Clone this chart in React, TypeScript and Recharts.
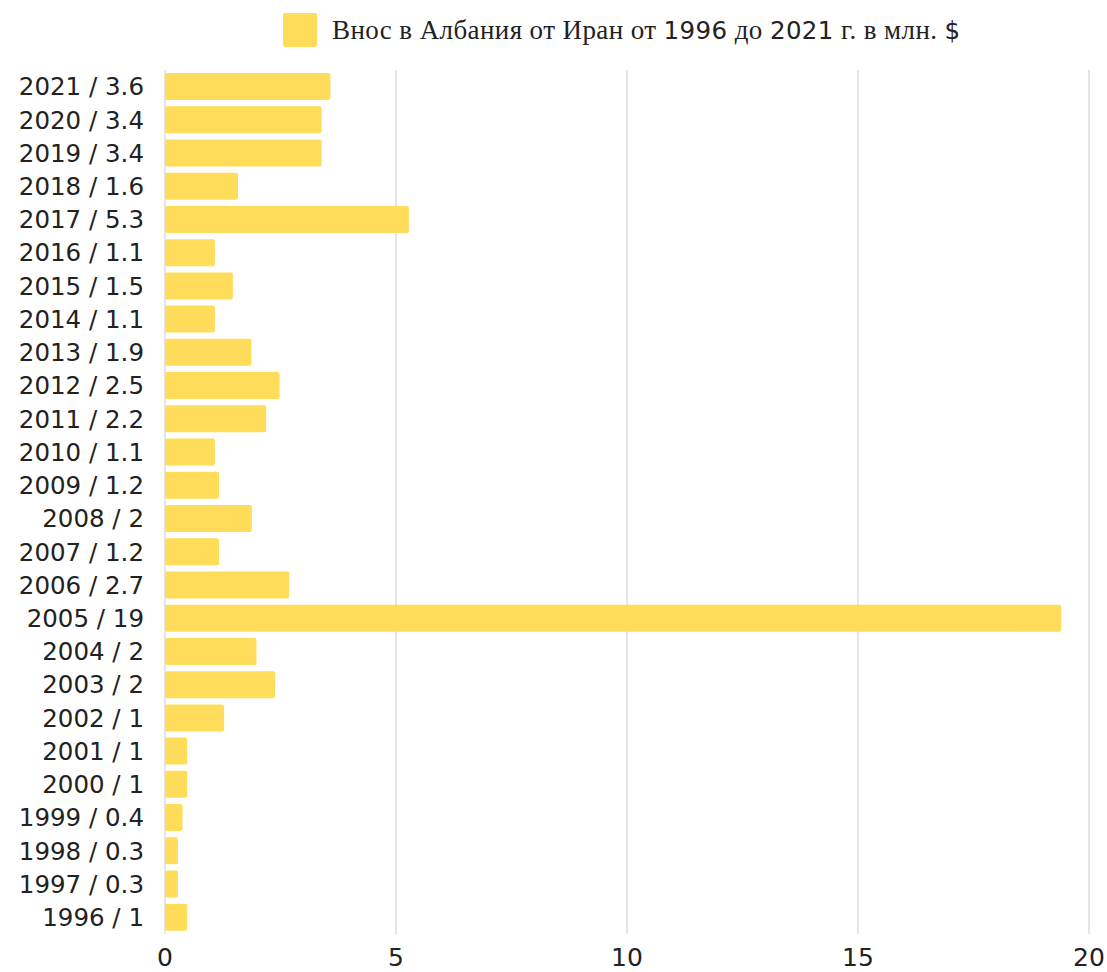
import React from "react";
import { BarChart, Bar, XAxis, YAxis, CartesianGrid, Legend } from "recharts";

const years = [
  "2021", "2020", "2019", "2018", "2017", "2016", "2015", "2014", "2013",
  "2012", "2011", "2010", "2009", "2008", "2007", "2006", "2005", "2004",
  "2003", "2002", "2001", "2000", "1999", "1998", "1997", "1996",
];
const labelValues = [
  "3.6", "3.4", "3.4", "1.6", "5.3", "1.1", "1.5", "1.1", "1.9",
  "2.5", "2.2", "1.1", "1.2", "2", "1.2", "2.7", "19", "2",
  "2", "1", "1", "1", "0.4", "0.3", "0.3", "1",
];
const values = [
  3.58, 3.39, 3.39, 1.58, 5.28, 1.08, 1.47, 1.08, 1.87,
  2.48, 2.19, 1.08, 1.17, 1.88, 1.17, 2.69, 19.4, 1.98,
  2.38, 1.28, 0.48, 0.48, 0.38, 0.28, 0.28, 0.48,
];
const xTicks = [0, 5, 10, 15, 20];
const seriesName = "Внос в Албания от Иран от 1996 до 2021 г. в млн. $";

const data = years.map((y, i) => ({
  label: `${y} / ${labelValues[i]}`,
  value: values[i],
}));

const COLOR = "#FFDC5A";
const TICK_FONT = "'DejaVu Sans', sans-serif";
const SANS = "'DejaVu Sans', sans-serif";
const SERIF = "'Liberation Serif', serif";

// split text: digits and $ in sans, the rest in serif
const splitRuns = (s: string) => {
  const runs: { t: string; sans: boolean }[] = [];
  for (const ch of s) {
    const sans = /[0-9$]/.test(ch);
    const last = runs[runs.length - 1];
    if (last && last.sans === sans) last.t += ch;
    else runs.push({ t: ch, sans });
  }
  return runs;
};

const LegendContent = () => (
  <div style={{ display: "flex", alignItems: "center", color: "#222", whiteSpace: "nowrap" }}>
    <span
      style={{
        display: "inline-block",
        width: 34,
        height: 34,
        background: COLOR,
        borderRadius: 2,
        marginRight: 15,
      }}
    />
    <span style={{ fontSize: 27, letterSpacing: 0.4 }}>
      {splitRuns(seriesName).map((r, i) => (
        <span key={i} style={{ fontFamily: r.sans ? SANS : SERIF, fontSize: r.sans ? 24.5 : 27 }}>
          {r.t}
        </span>
      ))}
    </span>
  </div>
);

export default function App() {
  return (
    <div style={{ position: "absolute", left: 0, top: 0, width: 1107, height: 972, background: "#fff" }}>
      <BarChart
        width={1107}
        height={972}
        data={data}
        layout="vertical"
        margin={{ top: 36, right: 18, bottom: 0, left: 0 }}
        barCategoryGap="9%"
      >
        <CartesianGrid horizontal={false} vertical={true} stroke="#dcdcdc" strokeWidth={1.5} />
        <XAxis
          type="number"
          domain={[0, 20]}
          ticks={xTicks}
          axisLine={false}
          tickLine={false}
          tickSize={0}
          tickMargin={14}
          height={38}
          interval={0}
          tick={{ fontSize: 25, fill: "#222", fontFamily: TICK_FONT }}
        />
        <YAxis
          type="category"
          dataKey="label"
          width={165}
          axisLine={false}
          tickLine={false}
          tickSize={0}
          tickMargin={21}
          interval={0}
          tick={{ fontSize: 24.5, fill: "#222", fontFamily: TICK_FONT }}
        />
        <Legend
          verticalAlign="top"
          content={<LegendContent />}
          wrapperStyle={{ top: 13, left: 283, width: "auto" }}
        />
        <Bar dataKey="value" name={seriesName} fill={COLOR} radius={2} isAnimationActive={false} />
      </BarChart>
    </div>
  );
}
